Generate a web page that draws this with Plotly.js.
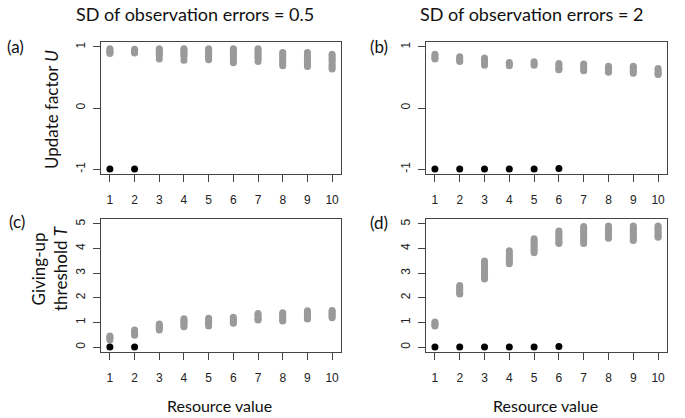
<!DOCTYPE html>
<html>
<head>
<meta charset="utf-8">
<script src="https://cdn.plot.ly/plotly-3.0.1.min.js"></script>
<style>html,body{margin:0;padding:0;background:#fff;}#chart{width:685px;height:418px;}</style>
</head>
<body>
<div id="chart"></div>
<script>
// Resource values (x categories)
const resourceValues = [1, 2, 3, 4, 5, 6, 7, 8, 9, 10];
const xTickLabels = ["1","2","3","4","5","6","7","8","9","10"];

// (a) Update factor U, SD of observation errors = 0.5 (grey points per resource value)
const uSd05 = [
  [0.97, 0.95, 0.93, 0.91, 0.89],
  [0.96, 0.94, 0.92, 0.90],
  [0.97, 0.95, 0.93, 0.91, 0.88, 0.86, 0.80],
  [0.97, 0.95, 0.92, 0.90, 0.87, 0.84, 0.78],
  [0.97, 0.95, 0.93, 0.90, 0.87, 0.84, 0.82, 0.79],
  [0.97, 0.95, 0.92, 0.89, 0.86, 0.83, 0.80, 0.77, 0.74],
  [0.97, 0.95, 0.92, 0.89, 0.86, 0.83, 0.80, 0.76],
  [0.91, 0.88, 0.85, 0.82, 0.78, 0.75, 0.72, 0.69],
  [0.91, 0.86, 0.83, 0.80, 0.77, 0.74, 0.71, 0.68],
  [0.88, 0.85, 0.82, 0.79, 0.76, 0.72, 0.69, 0.66, 0.64]
];
const uSd05BlackX = [1, 2];
const uSd05BlackY = [-1, -1];

// (b) Update factor U, SD = 2
const uSd2 = [
  [0.88, 0.85, 0.82, 0.80],
  [0.84, 0.81, 0.78, 0.76],
  [0.82, 0.79, 0.76, 0.73, 0.70],
  [0.745, 0.72, 0.69],
  [0.755, 0.73, 0.70],
  [0.73, 0.70, 0.67, 0.64, 0.625],
  [0.72, 0.69, 0.66, 0.63, 0.61],
  [0.685, 0.66, 0.63, 0.60, 0.585],
  [0.685, 0.66, 0.63, 0.60, 0.57],
  [0.645, 0.62, 0.59, 0.56, 0.55]
];
const uSd2BlackX = [1, 2, 3, 4, 5, 6];
const uSd2BlackY = [-1, -1, -1, -1, -1, -0.99];

// (c) Giving-up threshold T, SD = 0.5
const tSd05 = [
  [0.45, 0.40, 0.35, 0.29],
  [0.69, 0.63, 0.57, 0.52, 0.48],
  [0.94, 0.88, 0.82, 0.76, 0.69],
  [1.15, 1.09, 1.02, 0.96, 0.89, 0.83],
  [1.17, 1.10, 1.04, 0.98, 0.92, 0.86],
  [1.21, 1.15, 1.09, 1.03, 0.97],
  [1.36, 1.30, 1.24, 1.18, 1.12, 1.10],
  [1.39, 1.33, 1.27, 1.21, 1.15, 1.09, 1.06],
  [1.47, 1.41, 1.35, 1.29, 1.22, 1.16, 1.14],
  [1.49, 1.43, 1.37, 1.31, 1.25, 1.19]
];
const tSd05BlackX = [1, 2];
const tSd05BlackY = [0, 0];

// (d) Giving-up threshold T, SD = 2
const tSd2 = [
  [1.02, 0.96, 0.90, 0.86],
  [2.50, 2.42, 2.35, 2.28, 2.21, 2.15],
  [3.49, 3.40, 3.30, 3.20, 3.10, 3.00, 2.90, 2.83, 2.76],
  [3.91, 3.83, 3.75, 3.67, 3.59, 3.51, 3.44, 3.38],
  [4.40, 4.32, 4.24, 4.16, 4.08, 4.00, 3.92, 3.83],
  [4.71, 4.64, 4.56, 4.48, 4.40, 4.32, 4.25, 4.21],
  [4.90, 4.83, 4.76, 4.69, 4.62, 4.54, 4.46, 4.38, 4.30, 4.21],
  [4.92, 4.85, 4.78, 4.71, 4.64, 4.57, 4.50, 4.42],
  [4.92, 4.85, 4.78, 4.71, 4.64, 4.57, 4.50, 4.42, 4.33],
  [4.92, 4.85, 4.78, 4.71, 4.64, 4.57, 4.50, 4.46]
];
const tSd2BlackX = [1, 2, 3, 4, 5, 6];
const tSd2BlackY = [0, 0, 0, 0, 0, 0.02];

const uTicks = [-1, 0, 1];
const tTicks = [0, 1, 2, 3, 4, 5];

const GREY = '#9a9a9a';
const MS = 7;

function greyTrace(groups, xa, ya) {
  const xs = [], ys = [];
  groups.forEach((vals, i) => vals.forEach(v => { xs.push(resourceValues[i]); ys.push(v); }));
  return {x: xs, y: ys, xaxis: xa, yaxis: ya, type: 'scatter', mode: 'markers',
    marker: {color: GREY, size: MS}, hoverinfo: 'skip', showlegend: false};
}
function blackTrace(xs, ys, xa, ya) {
  return {x: xs, y: ys, xaxis: xa, yaxis: ya, type: 'scatter', mode: 'markers',
    marker: {color: '#000', size: MS}, hoverinfo: 'skip', showlegend: false};
}

const data = [
  greyTrace(uSd05, 'x', 'y'), blackTrace(uSd05BlackX, uSd05BlackY, 'x', 'y'),
  greyTrace(uSd2, 'x2', 'y2'), blackTrace(uSd2BlackX, uSd2BlackY, 'x2', 'y2'),
  greyTrace(tSd05, 'x3', 'y3'), blackTrace(tSd05BlackX, tSd05BlackY, 'x3', 'y3'),
  greyTrace(tSd2, 'x4', 'y4'), blackTrace(tSd2BlackX, tSd2BlackY, 'x4', 'y4')
];

const W = 685, H = 418;
const colL = [101 / W, 341 / W], colR = [426 / W, 667 / W];
const rowT = [1 - 174 / H, 1 - 42 / H], rowB = [1 - 352 / H, 1 - 219 / H];

const tickFont = {family: 'Liberation Sans, Arial, sans-serif', size: 12, color: '#222'};
function xAx(domain, anchor) {
  return {domain: domain, anchor: anchor, range: [0.64, 10.36], tickmode: 'array',
    tickvals: resourceValues, ticktext: xTickLabels, ticks: 'outside', ticklen: 7, tickwidth: 1,
    tickcolor: '#444', showline: true, mirror: true, linecolor: '#444', linewidth: 1,
    ticklabelstandoff: 8,
    showgrid: false, zeroline: false, tickfont: tickFont, fixedrange: true};
}
function yAx(domain, anchor, range, ticks) {
  return {domain: domain, anchor: anchor, range: range, tickmode: 'array', tickvals: ticks,
    ticktext: ticks.map(String), ticks: 'outside', ticklen: 7, tickwidth: 1, tickangle: -90,
    tickcolor: '#444', showline: true, mirror: true, linecolor: '#444', linewidth: 1,
    ticklabelstandoff: 3,
    showgrid: false, zeroline: false, tickfont: tickFont, fixedrange: true};
}

const labFont = {family: 'Lato, Carlito, Calibri, sans-serif', color: '#111'};
function ann(text, px, py, size, angle) {
  return {text: text, xref: 'paper', yref: 'paper', x: px / W, y: 1 - py / H,
    xanchor: 'center', yanchor: 'middle', showarrow: false, textangle: angle || 0,
    font: Object.assign({size: size}, labFont)};
}

const layout = {
  width: W, height: H, margin: {l: 0, r: 0, t: 0, b: 0},
  paper_bgcolor: '#fff', plot_bgcolor: '#fff', showlegend: false,
  xaxis: xAx(colL, 'y'), yaxis: yAx(rowT, 'x', [-1.08, 1.08], uTicks),
  xaxis2: xAx(colR, 'y2'), yaxis2: yAx(rowT, 'x2', [-1.08, 1.08], uTicks),
  xaxis3: xAx(colL, 'y3'), yaxis3: yAx(rowB, 'x3', [-0.2, 5.2], tTicks),
  xaxis4: xAx(colR, 'y4'), yaxis4: yAx(rowB, 'x4', [-0.2, 5.2], tTicks),
  annotations: [
    ann('SD of observation errors = 0.5', 195, 14, 18),
    ann('SD of observation errors = 2', 532, 14, 18),
    ann('(a)', 15, 47, 17), ann('(b)', 379, 47, 17),
    ann('(c)', 17, 221, 17), ann('(d)', 379, 222, 17),
    ann('Update factor <i>U</i>', 52, 110, 17, -90),
    ann('Giving-up<br>threshold <i>T</i>', 49, 268, 17, -90),
    ann('Resource value', 219, 405, 16),
    ann('Resource value', 545, 405, 16)
  ]
};

Plotly.newPlot('chart', data, layout, {staticPlot: true, displayModeBar: false});
</script>
</body>
</html>
